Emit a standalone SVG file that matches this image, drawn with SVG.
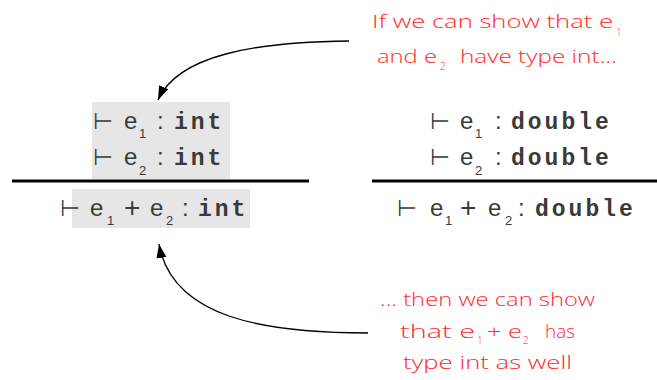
<svg xmlns="http://www.w3.org/2000/svg" width="657" height="380" viewBox="0 0 657 380">
<style>
.s{font-family:"Liberation Sans",Arial,sans-serif;font-size:24px;fill:#3a3a3a}
.p{font-family:"Liberation Sans",Arial,sans-serif;font-size:28px;fill:#3a3a3a}
.t{font-family:"DejaVu Sans",sans-serif;font-size:23px;fill:#3a3a3a}
.sub{font-family:"Liberation Sans",Arial,sans-serif;font-size:13px;fill:#3a3a3a}
.m{font-family:"Liberation Mono","Courier New",monospace;font-size:23px;font-weight:bold;letter-spacing:3px;fill:#3a3a3a}
.r{font-family:"Open Sans","DejaVu Sans",sans-serif;font-weight:300;font-size:19px;fill:#ff2a2a}
.rs{font-family:"Open Sans","DejaVu Sans",sans-serif;font-weight:300;font-size:10px;fill:#ff2a2a}
.bar{stroke:#000;stroke-width:3}
.hl{fill:#e6e6e6}
.c{fill:none;stroke:#000;stroke-width:1.3}
</style>
<defs>
<marker id="ah" markerUnits="userSpaceOnUse" markerWidth="16" markerHeight="12" refX="14" refY="5" orient="auto">
<path d="M0,0 L14,5 L0,10 z" fill="#000"/>
</marker>
</defs>
<g id="int-rule">
<rect class="hl" x="92" y="102" width="138" height="77"/>
<rect class="hl" x="72" y="189" width="178" height="39"/>
<line class="bar" x1="12" y1="181" x2="309" y2="181"/>
<text class="t" x="93" y="129">⊢</text><text class="s" x="124" y="129">e</text><text class="sub" x="139" y="138">1</text><text class="s" x="157" y="129">:</text><text class="m" x="174" y="129">int</text>
<text class="t" x="93" y="165">⊢</text><text class="s" x="124" y="165">e</text><text class="sub" x="139" y="175">2</text><text class="s" x="157" y="165">:</text><text class="m" x="174" y="165">int</text>
<text class="t" x="60" y="216">⊢</text><text class="s" x="90" y="216">e</text><text class="sub" x="107" y="225">1</text><text class="p" x="124" y="217">+</text><text class="s" x="150" y="216">e</text><text class="sub" x="166" y="225">2</text><text class="s" x="182" y="216">:</text><text class="m" x="198" y="216">int</text>
</g>
<g id="double-rule">
<line class="bar" x1="372" y1="181" x2="657" y2="181"/>
<text class="t" x="430" y="129">⊢</text><text class="s" x="460" y="129">e</text><text class="sub" x="475" y="138">1</text><text class="s" x="495" y="129">:</text><text class="m" x="511" y="129">double</text>
<text class="t" x="430" y="165">⊢</text><text class="s" x="460" y="165">e</text><text class="sub" x="475" y="175">2</text><text class="s" x="495" y="165">:</text><text class="m" x="511" y="165">double</text>
<text class="t" x="397" y="216">⊢</text><text class="s" x="430" y="216">e</text><text class="sub" x="445" y="225">1</text><text class="p" x="460" y="217">+</text><text class="s" x="488" y="216">e</text><text class="sub" x="505" y="225">2</text><text class="s" x="518" y="216">:</text><text class="m" x="535" y="216">double</text>
</g>
<g id="note-top">
<text class="r" x="372" y="28" textLength="241" lengthAdjust="spacingAndGlyphs">If we can show that e</text><text class="rs" x="616" y="36">1</text>
<text class="r" x="377" y="63" textLength="60" lengthAdjust="spacingAndGlyphs">and e</text><text class="rs" x="440" y="70">2</text>
<text class="r" x="460" y="63" textLength="157" lengthAdjust="spacingAndGlyphs">have type int…</text>
</g>
<g id="note-bottom">
<text class="r" x="380" y="306" textLength="215" lengthAdjust="spacingAndGlyphs">… then we can show</text>
<text class="r" x="400" y="338" textLength="75" lengthAdjust="spacingAndGlyphs">that e</text><text class="rs" x="477" y="344">1</text>
<text class="r" x="487" y="338" textLength="35" lengthAdjust="spacingAndGlyphs">+ e</text><text class="rs" x="523" y="344">2</text>
<text class="r" x="545" y="338" textLength="30" lengthAdjust="spacingAndGlyphs">has</text>
<text class="r" x="403" y="369" textLength="169" lengthAdjust="spacingAndGlyphs">type int as well</text>
</g>
<g id="connectors">
<path class="c" d="M349,41 C255,42 178,55 158,100" marker-end="url(#ah)"/>
<path class="c" d="M368,333 C265,333 172,318 159,244" marker-end="url(#ah)"/>
</g>
</svg>
